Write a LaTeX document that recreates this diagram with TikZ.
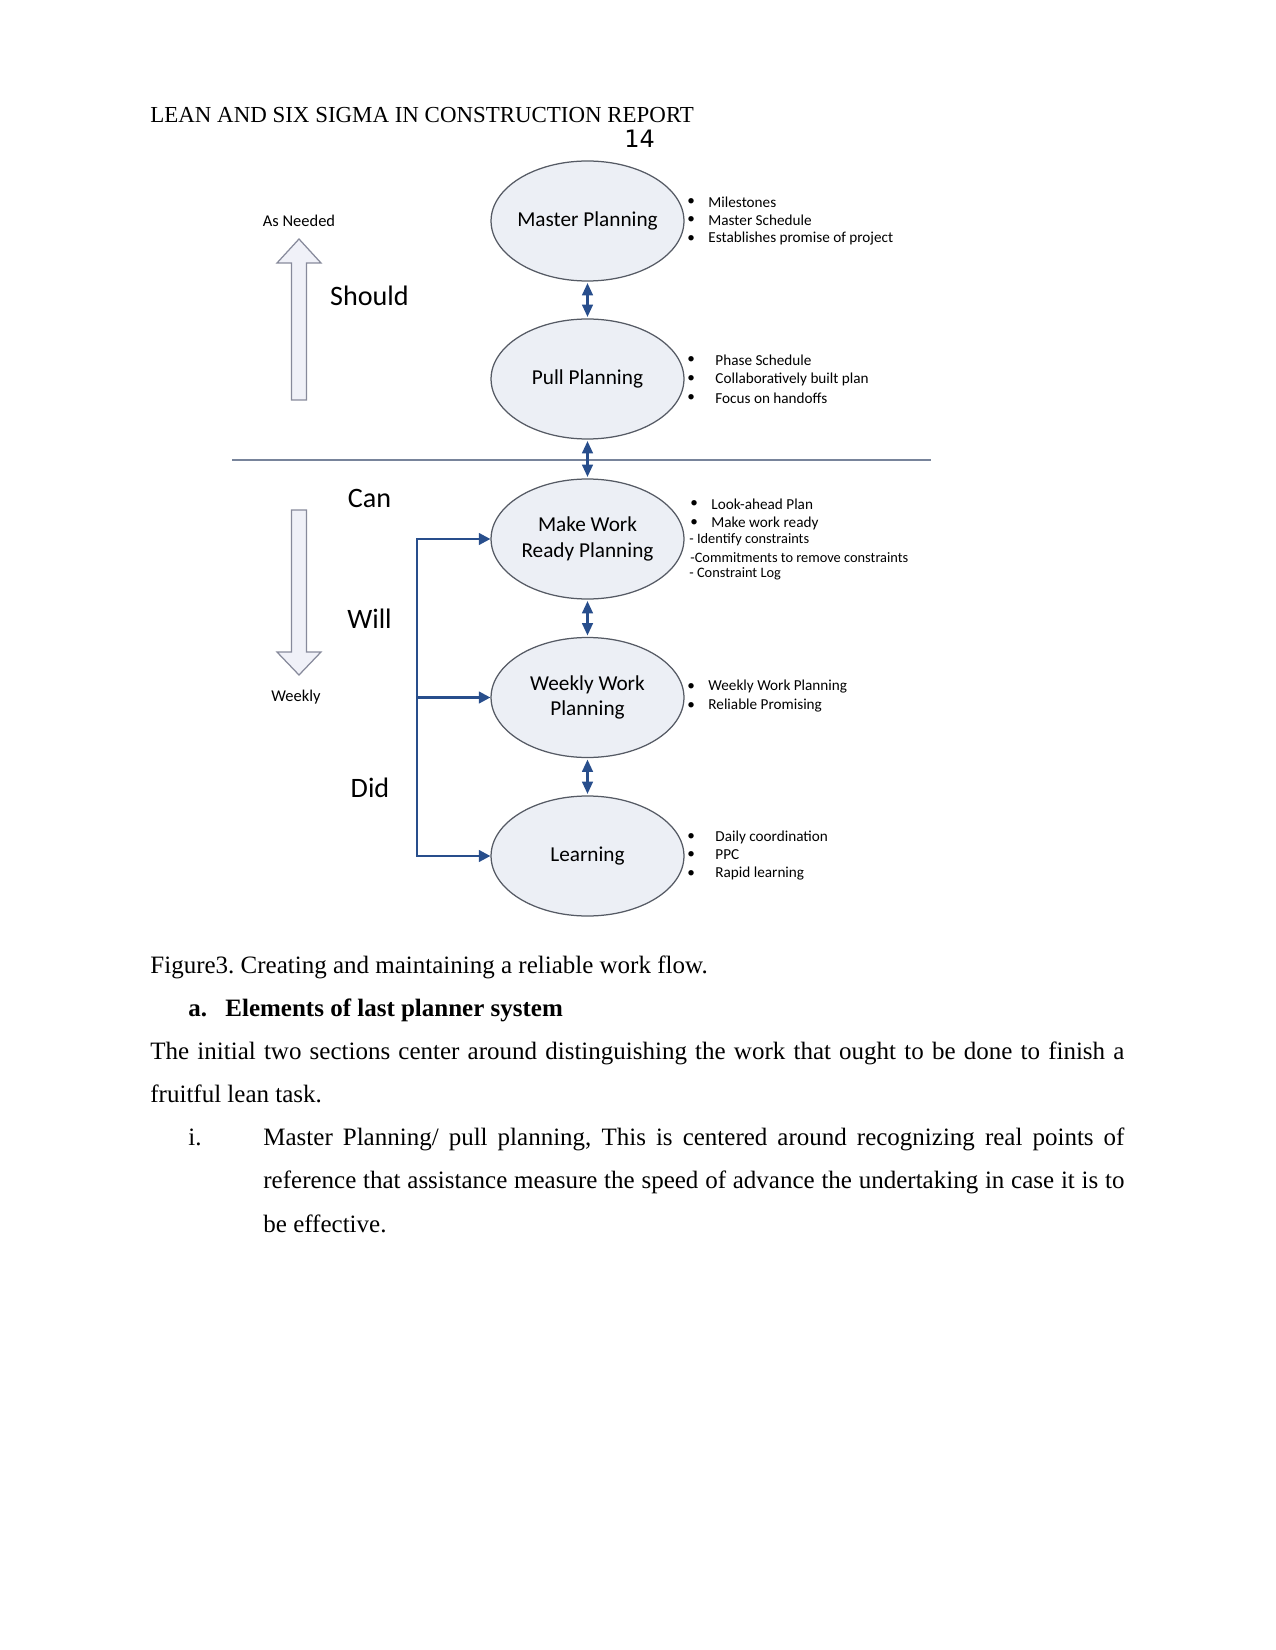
\documentclass[tikz,border=0pt]{standalone}
\usepackage{fontspec}
\setmainfont{Liberation Serif}
\newfontfamily\calfont{Carlito}
\newfontfamily\dvfont{DejaVu Sans}
\usetikzlibrary{shapes.geometric,arrows.meta}
\frenchspacing
\definecolor{ellfill}{RGB}{236,239,245}
\definecolor{ellline}{RGB}{85,90,100}
\definecolor{arrblue}{RGB}{40,78,140}
\definecolor{sepline}{RGB}{120,132,155}
\definecolor{hollowfill}{RGB}{240,241,248}
\definecolor{hollowline}{RGB}{135,138,155}
\newcommand{\ctr}[1]{\makebox[30pt][c]{#1}}
\tikzset{
  x=0.48pt, y=-0.48pt,
  plan/.style={ellipse, draw=ellline, line width=0.6pt, fill=ellfill,
    minimum width=92.6pt, minimum height=57.6pt, inner sep=0pt,
    font=\calfont\fontsize{10.2}{12.2}\selectfont, align=center},
  dblarrow/.style={draw=arrblue, line width=1.4pt,
    {Triangle[width=5pt,length=6pt]}-{Triangle[width=5pt,length=6pt]}},
  feed/.style={draw=arrblue, line width=1.2pt, -{Triangle[width=5.5pt,length=5.5pt]}},
  bigword/.style={font=\calfont\fontsize{13.5}{16}\selectfont, inner sep=0pt},
  smallword/.style={font=\calfont\fontsize{7.9}{9}\selectfont, inner sep=0pt},
  bul/.style={font=\calfont\fontsize{7.3}{8.5}\selectfont, inner sep=0pt, anchor=west},
  dashitem/.style={font=\calfont\fontsize{6.9}{8}\selectfont, inner sep=0pt, anchor=west},
  hdrtext/.style={font=\fontsize{11}{13}\selectfont, inner sep=0pt, anchor=base west},
  bodytext/.style={font=\fontsize{12}{14}\selectfont, inner sep=0pt, anchor=base west},
  hollow/.style={draw=hollowline, line width=0.6pt, fill=hollowfill, line join=miter}
}
\begin{document}
\begin{tikzpicture}
\useasboundingbox (0,0) rectangle (1275,1650);

% header
\node[hdrtext] (hdr) at (150,123) {LEAN AND SIX SIGMA IN CONSTRUCTION REPORT};
\node[font=\dvfont\fontsize{11.5}{13}\selectfont, inner sep=0pt, anchor=base west] (pg) at (624,148) {14};

% ellipses
\node[plan] (mp)  at (587.5,221)   {\ctr{Master Planning}};
\node[plan] (pp)  at (587.5,379)   {\ctr{Pull Planning}};
\node[plan] (mwr) at (587.5,539)   {\ctr{Make Work}\\\ctr{Ready Planning}};
\node[plan] (wwp) at (587.5,697.5) {\ctr{Weekly Work}\\\ctr{Planning}};
\node[plan] (lrn) at (587.5,856)   {\ctr{Learning}};

% separator line
\coordinate (sepL) at (232,460);
\coordinate (sepR) at (931,460);
\draw[sepline, line width=1pt] (sepL) -- (sepR);

% double arrows
\draw[dblarrow, shorten <=0.6pt, shorten >=0.6pt] (mp.south) -- (pp.north);
\draw[dblarrow, shorten <=0.6pt, shorten >=0.6pt] (pp.south) -- (mwr.north);
\draw[dblarrow, shorten <=0.6pt, shorten >=0.6pt] (mwr.south) -- (wwp.north);
\draw[dblarrow, shorten <=0.6pt, shorten >=0.6pt] (wwp.south) -- (lrn.north);

% feedback bracket
\coordinate (b1) at (417,539);
\coordinate (b2) at (417,697.5);
\coordinate (b3) at (417,856);
\draw[draw=arrblue, line width=1.2pt, line cap=rect] (b3) -- (b1);
\draw[feed] (b1) -- (mwr.west);
\draw[feed] (b2) -- (wwp.west);
\draw[feed] (b3) -- (lrn.west);

% hollow arrows
\draw[hollow] (291.5,400) -- (291.5,263) -- (277,263) -- (299,239) -- (321,263) -- (306.5,263) -- (306.5,400) -- cycle;
\draw[hollow] (291.5,510) -- (291.5,652) -- (277,652) -- (299,675) -- (321,652) -- (306.5,652) -- (306.5,510) -- cycle;

% side labels
\node[smallword] (asn) at (299,221) {As Needed};
\node[smallword] (wk)  at (296,697) {Weekly};
\node[bigword] (should) at (369.5,296) {Should};
\node[bigword] (can)    at (369.5,498) {Can};
\node[bigword] (will)   at (369.5,619) {Will};
\node[bigword] (did)    at (370,788)   {Did};

% bullets: master
\node[bul] (m1b) at (687,202) {•}; \node[bul] (m1) at (708,202) {Milestones};
\node[bul] (m2b) at (687,220) {•}; \node[bul] (m2) at (708,220) {Master Schedule};
\node[bul] (m3b) at (687,239) {•}; \node[bul] (m3) at (708,239) {Establishes promise of project};
% pull
\node[bul] (p1b) at (687,360) {•}; \node[bul] (p1) at (715,360) {Phase Schedule};
\node[bul] (p2b) at (687,379) {•}; \node[bul] (p2) at (715,379) {Collaboratively built plan};
\node[bul] (p3b) at (687,398) {•}; \node[bul] (p3) at (715,398) {Focus on handoffs};
% make work ready
\node[bul] (w1b) at (690,504) {•}; \node[bul] (w1) at (711,504) {Look-ahead Plan};
\node[bul] (w2b) at (690,523) {•}; \node[bul] (w2) at (711,523) {Make work ready};
\node[dashitem] (w3) at (689,540) {- Identify constraints};
\node[dashitem] (w4) at (690,558) {-Commitments to remove constraints};
\node[dashitem] (w5) at (689,574) {- Constraint Log};
% weekly
\node[bul] (k1b) at (687,687) {•}; \node[bul] (k1) at (708,687) {Weekly Work Planning};
\node[bul] (k2b) at (687,706) {•}; \node[bul] (k2) at (708,706) {Reliable Promising};
% learning
\node[bul] (l1b) at (687,837) {•}; \node[bul] (l1) at (715,837) {Daily coordination};
\node[bul] (l2b) at (687,855) {•}; \node[bul] (l2) at (715,855) {PPC};
\node[bul] (l3b) at (687,874) {•}; \node[bul] (l3) at (715,874) {Rapid learning};

% body text
\node[bodytext] (cap) at (150,973) {Figure3. Creating and maintaining a reliable work flow.};
\node[bodytext, font=\bfseries\fontsize{12}{14}\selectfont] (sa) at (188,1016) {a.};
\node[bodytext, font=\bfseries\fontsize{12}{14}\selectfont] (sat) at (225,1016) {Elements of last planner system};
\node[bodytext] (pl1) at (150,1059) {\makebox[467.5pt][s]{The initial two sections center around distinguishing the work that ought to be done to finish a}};
\node[bodytext] (pl2) at (150,1102) {fruitful lean task.};
\node[bodytext] (si) at (188,1145) {i.};
\node[bodytext] (ql1) at (263,1145) {\makebox[413.3pt][s]{Master Planning/ pull planning, This is centered around recognizing real points of}};
\node[bodytext] (ql2) at (263,1188) {\makebox[413.3pt][s]{reference that assistance measure the speed of advance the undertaking in case it is to}};
\node[bodytext] (ql3) at (263,1232) {be effective.};
\end{tikzpicture}
\end{document}
